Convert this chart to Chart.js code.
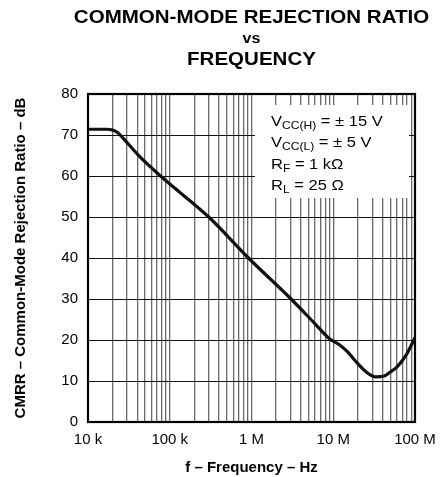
<!DOCTYPE html>
<html>
<head>
<meta charset="utf-8">
<script src="https://cdn.jsdelivr.net/npm/chart.js@4.4.1/dist/chart.umd.min.js"></script>
<style>
  html, body { margin: 0; padding: 0; background: #fff; }
  #wrap { width: 446px; height: 477px; }
</style>
</head>
<body>
<div id="wrap"><canvas id="cmrr"></canvas></div>
<script>
// curve
const freqHz = [10e3, 17e3, 20e3, 23e3, 27e3, 43e3, 79e3, 300e3, 918e3, 3.05e6, 6.15e6,
  9e6, 12e6, 15e6, 19e6, 25e6, 33e6, 42e6, 50e6, 60e6, 70e6, 80e6, 100e6];
const cmrrDb = [71.4, 71.4, 71.2, 70.6, 69.2, 64.7, 59.8, 50, 40, 30, 23.7,
  20.3, 18.8, 17.1, 14.7, 12.3, 11, 11.2, 12.2, 13.4, 15, 16.7, 20.6];

const xDecades = [1e4, 1e5, 1e6, 1e7, 1e8];
const xTickLabels = ['10 k', '100 k', '1 M', '10 M', '100 M'];
const yTicks = [0, 10, 20, 30, 40, 50, 60, 70, 80];

const titleLines = ['COMMON-MODE REJECTION RATIO', 'vs', 'FREQUENCY'];
const conditions = [
  ['V', 'CC(H)', ' = \u00B1 15 V'],
  ['V', 'CC(L)', ' = \u00B1 5 V'],
  ['R', 'F', ' = 1 k\u03A9'],
  ['R', 'L', ' = 25 \u03A9']
];

// grid at 1..9 x each decade
const gridFreqs = [];
xDecades.forEach((d, i) => {
  if (i === xDecades.length - 1) { gridFreqs.push(d); return; }
  for (let k = 1; k <= 9; k++) gridFreqs.push(d * k);
});

const FONT = 'Liberation Sans, Arial, Helvetica, sans-serif';
Chart.defaults.font.family = FONT;
Chart.defaults.color = '#000';

const titlePlugin = {
  id: 'chartTitle',
  afterDraw(chart) {
    const ctx = chart.ctx;
    const cx = (chart.chartArea.left + chart.chartArea.right) / 2;
    const sx = 1.14;
    ctx.save();
    ctx.fillStyle = '#000';
    ctx.textAlign = 'center';
    ctx.textBaseline = 'alphabetic';
    ctx.scale(sx, 1);
    ctx.font = 'bold 18px ' + FONT;
    ctx.fillText(titleLines[0], cx / sx, 23);
    ctx.font = 'bold 14px ' + FONT;
    ctx.fillText(titleLines[1], cx / sx, 43);
    ctx.font = 'bold 18px ' + FONT;
    ctx.fillText(titleLines[2], cx / sx, 65);
    ctx.restore();
  }
};

const notePlugin = {
  id: 'condBox',
  beforeDatasetsDraw(chart) {
    const ctx = chart.ctx;
    const a = chart.chartArea;
    const bx = a.left + 167, by = a.top + 11, bw = 154, bh = 93;
    ctx.save();
    ctx.fillStyle = '#fff';
    ctx.fillRect(bx, by, bw, bh);
    ctx.fillStyle = '#000';
    ctx.textBaseline = 'alphabetic';
    conditions.forEach((c, i) => {
      let x = bx + 16;
      const y = by + 21 + i * 21.3;
      ctx.save();
      ctx.translate(x, y);
      ctx.scale(1.1, 1);
      x = 0;
      ctx.font = '15px ' + FONT;
      ctx.fillText(c[0], x, 0);
      x += ctx.measureText(c[0]).width;
      ctx.font = '11px ' + FONT;
      ctx.fillText(c[1], x, 3);
      x += ctx.measureText(c[1]).width;
      ctx.font = '15px ' + FONT;
      ctx.fillText(c[2], x, 0);
      ctx.restore();
    });
    ctx.restore();
  },
  afterDatasetsDraw(chart) {
    const ctx = chart.ctx;
    const a = chart.chartArea;
    ctx.save();
    ctx.strokeStyle = '#000';
    ctx.lineWidth = 2.2;
    ctx.strokeRect(a.left, a.top, a.right - a.left, a.bottom - a.top);
    ctx.restore();
  }
};

new Chart(document.getElementById('cmrr'), {
  type: 'line',
  data: {
    datasets: [{
      label: 'CMRR',
      data: freqHz.map((f, i) => ({ x: f, y: cmrrDb[i] })),
      borderColor: '#111',
      borderWidth: 3.2,
      pointRadius: 0,
      fill: false,
      cubicInterpolationMode: 'monotone'
    }]
  },
  options: {
    responsive: true,
    maintainAspectRatio: false,
    animation: false,
    layout: { padding: { top: 94, right: 31, bottom: 0, left: 0 } },
    plugins: {
      legend: { display: false },
      tooltip: { enabled: false }
    },
    scales: {
      x: {
        type: 'logarithmic',
        min: 1e4,
        max: 1e8,
        afterBuildTicks: (scale) => {
          scale.ticks = gridFreqs.map(v => ({ value: v, major: xDecades.includes(v) }));
        },
        afterFit: (scale) => { scale.height = 55; },
        border: { display: false },
        grid: {
          drawTicks: false,
          color: '#6a6a6a',
          lineWidth: 1.3
        },
        ticks: {
          autoSkip: false,
          maxRotation: 0,
          padding: 9,
          font: { size: 15 },
          callback: (value) => {
            const i = xDecades.indexOf(value);
            return i >= 0 ? xTickLabels[i] : '';
          }
        },
        title: {
          display: true,
          text: 'f \u2013 Frequency \u2013 Hz',
          font: { size: 15, weight: 'bold' },
          padding: { top: 3, bottom: 0 }
        }
      },
      y: {
        min: 0,
        max: 80,
        afterBuildTicks: (scale) => {
          scale.ticks = yTicks.map(v => ({ value: v }));
        },
        afterFit: (scale) => { scale.width = 88; },
        border: { display: false },
        grid: {
          drawTicks: false,
          color: '#111',
          lineWidth: 1
        },
        ticks: {
          padding: 10,
          font: { size: 15 }
        },
        title: {
          display: true,
          text: 'CMRR \u2013 Common-Mode Rejection Ratio \u2013 dB',
          font: { size: 15, weight: 'bold' },
          padding: { top: 12, bottom: 0 }
        }
      }
    }
  },
  plugins: [titlePlugin, notePlugin]
});
</script>
</body>
</html>
